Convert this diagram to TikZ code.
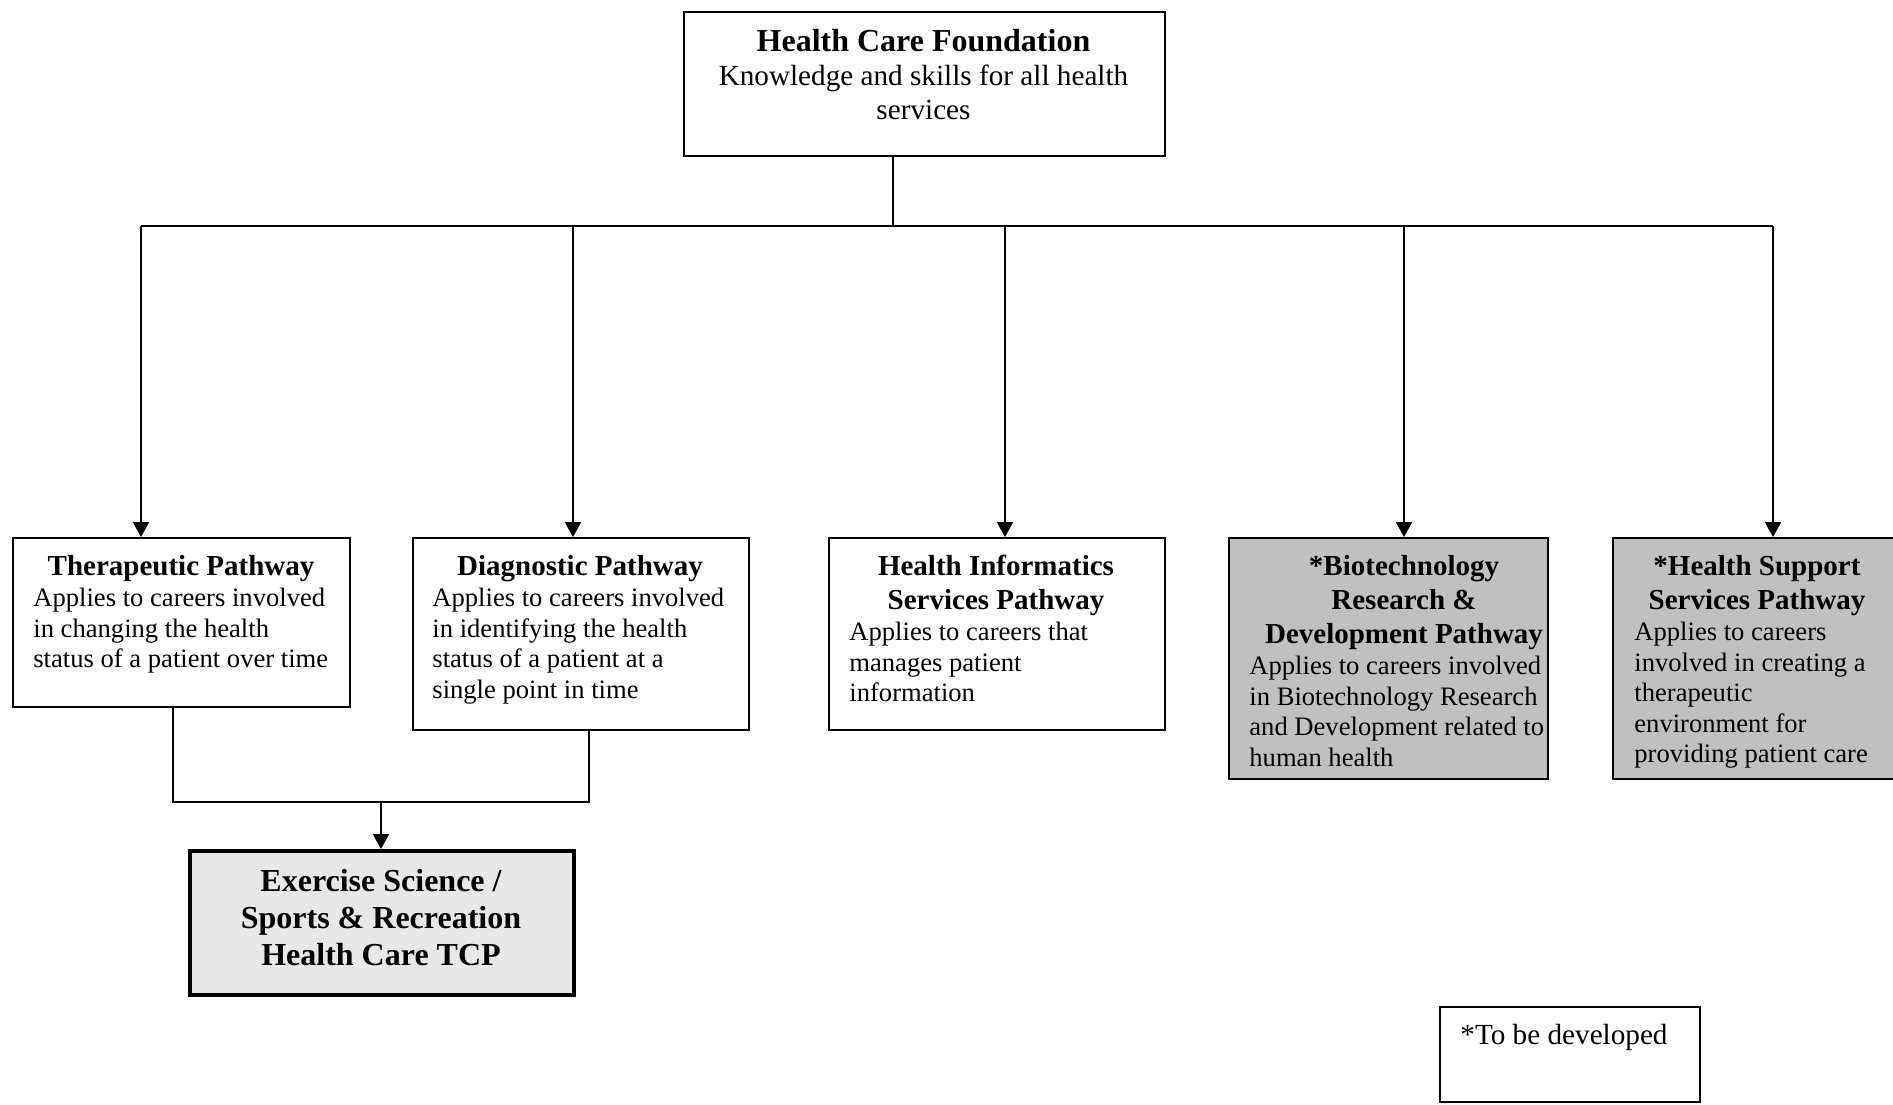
\documentclass[tikz,border=0pt]{standalone}
\usepackage{fontspec}
\setmainfont{Liberation Serif}
\usetikzlibrary{arrows.meta}

% font sets
\newcommand\fTitle{\fontsize{16}{18}\selectfont\bfseries}
\newcommand\fTop{\fontsize{14.6}{17}\selectfont}
\newcommand\fHead{\fontsize{14.5}{17}\selectfont\bfseries}
\newcommand\fBody{\fontsize{13.3}{15.25}\selectfont}
\newcommand\fTcp{\fontsize{16}{18.4}\selectfont\bfseries}

\definecolor{pendgray}{HTML}{C0C0C0}
\definecolor{tcpgray}{HTML}{E8E8E8}

\tikzset{
  box/.style={draw=black, line width=1pt, rectangle, inner sep=0pt, anchor=north west},
  pending/.style={box, fill=pendgray},
  tcpbox/.style={box, line width=2pt, fill=tcpgray},
  link/.style={draw=black, line width=1pt},
  arr/.style={link, -{Triangle[length=7.5pt,width=8pt]}},
  head/.style={inner sep=0pt, anchor=north, align=center, font=\fHead},
  body/.style={inner sep=0pt, anchor=north west, align=left, font=\fBody},
}

\begin{document}
\begin{tikzpicture}[x=0.5pt,y=-0.5pt]
\useasboundingbox (0,0) rectangle (1893,1104);

% top box
\node[box, minimum width=240.5pt, minimum height=72pt] (found) at (683,11) {};
\node[inner sep=0pt, anchor=north, font=\fTitle] (foundT) at (923.5,29) {Health Care Foundation};
\node[inner sep=0pt, anchor=north, align=center, font=\fTop] (foundB) at (923.5,65)
  {Knowledge and skills for all health\\services};

% pathway boxes
\node[box, minimum width=168.5pt, minimum height=84.5pt] (ther) at (12,537) {};
\node[head] (therH) at (181,555) {Therapeutic Pathway};
\node[body] (therB) at (33,588) {Applies to careers involved\\in changing the health\\status of a patient over time};

\node[box, minimum width=168pt, minimum height=96pt] (diag) at (412,537) {};
\node[head] (diagH) at (580,555) {Diagnostic Pathway};
\node[body] (diagB) at (432,588) {Applies to careers involved\\in identifying the health\\status of a patient at a\\single point in time};

\node[box, minimum width=168pt, minimum height=96pt] (info) at (828,537) {};
\node[head] (infoH) at (996,555) {Health Informatics\\Services Pathway};
\node[body] (infoB) at (849,622) {Applies to careers that\\manages patient\\information};

\node[pending, minimum width=159.5pt, minimum height=120.5pt] (biot) at (1228,537) {};
\node[head] (biotH) at (1404,555) {*Biotechnology\\Research \&\\Development Pathway};
\node[body] (biotB) at (1249,656) {Applies to careers involved\\in Biotechnology Research\\and Development related to\\human health};

\node[pending, minimum width=150pt, minimum height=120.5pt] (supp) at (1612,537) {};
\node[head] (suppH) at (1757,555) {*Health Support\\Services Pathway};
\node[body] (suppB) at (1634,622) {Applies to careers\\involved in creating a\\therapeutic\\environment for\\providing patient care};

% combined programme box
\node[tcpbox, minimum width=192pt, minimum height=72pt] (tcp) at (188,849) {};
\node[inner sep=0pt, anchor=north, align=center, font=\fTcp] (tcpT) at (381,869)
  {Exercise Science /\\Sports \& Recreation\\Health Care TCP};

% legend
\node[box, minimum width=130pt, minimum height=47.5pt] (note) at (1439,1006) {};
\node[inner sep=0pt, anchor=north west, font=\fTop] (noteT) at (1460,1024) {*To be developed};

% tree connectors
\coordinate (stem) at (893,226);
\coordinate (d1) at (141,226);
\coordinate (d2) at (573,226);
\coordinate (d3) at (1005,226);
\coordinate (d4) at (1404,226);
\coordinate (d5) at (1773,226);
\draw[link] (stem |- found.south) -- (stem);
\draw[link] (d1) -- (d5);
\draw[arr] (d1) -- (d1 |- ther.north);
\draw[arr] (d2) -- (d2 |- diag.north);
\draw[arr] (d3) -- (d3 |- info.north);
\draw[arr] (d4) -- (d4 |- biot.north);
\draw[arr] (d5) -- (d5 |- supp.north);

% merge into programme box
\coordinate (m1) at (173,802);
\coordinate (m2) at (589,802);
\coordinate (mj) at (381,802);
\draw[link] (m1 |- ther.south) -- (m1) -- (m2) -- (m2 |- diag.south);
\draw[arr] (mj) -- (mj |- tcp.north);
\end{tikzpicture}
\end{document}
